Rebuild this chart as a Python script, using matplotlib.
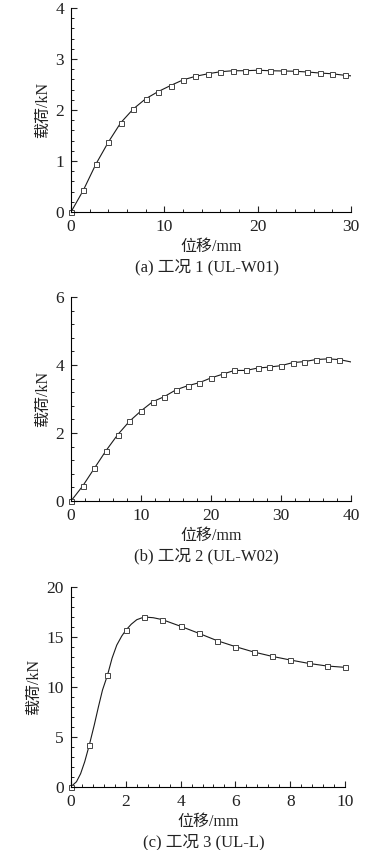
import matplotlib
matplotlib.use("Agg")
import matplotlib.pyplot as plt
import numpy as np

plt.rcParams.update(
    {
        "font.family": ["Liberation Serif", "Noto Sans CJK SC"],
        "font.size": 11,
        "axes.linewidth": 0.8,
        "xtick.direction": "in",
        "ytick.direction": "in",
        "xtick.major.size": 4,
        "ytick.major.size": 4,
        "xtick.minor.size": 2.2,
        "ytick.minor.size": 2.2,
        "xtick.major.width": 0.8,
        "ytick.major.width": 0.8,
        "xtick.minor.width": 0.7,
        "ytick.minor.width": 0.7,
    }
)

# (a) 工况 1 (UL-W01)
x_a = [0, 1.33, 2.67, 4.0, 5.33, 6.67, 8.0, 9.33, 10.67, 12.0, 13.33, 14.67,
       16.0, 17.33, 18.67, 20.0, 21.33, 22.67, 24.0, 25.33, 26.67, 28.0, 29.33]
y_a = [0, 0.43, 0.94, 1.37, 1.75, 2.02, 2.22, 2.36, 2.48, 2.59, 2.66, 2.71,
       2.75, 2.77, 2.77, 2.78, 2.77, 2.765, 2.76, 2.745, 2.725, 2.71, 2.68]
line_x_a = x_a + [30.0]
line_y_a = y_a + [2.67]

# (b) 工况 2 (UL-W02)
x_b = [0, 1.67, 3.33, 5.0, 6.67, 8.33, 10.0, 11.67, 13.33, 15.0, 16.67, 18.33,
       20.0, 21.67, 23.33, 25.0, 26.67, 28.33, 30.0, 31.67, 33.33, 35.0, 36.67, 38.33]
y_b = [0, 0.44, 0.96, 1.48, 1.95, 2.34, 2.65, 2.92, 3.07, 3.27, 3.39, 3.48,
       3.62, 3.73, 3.84, 3.84, 3.91, 3.94, 3.98, 4.07, 4.10, 4.16, 4.18, 4.16]
line_x_b = x_b + [40.0]
line_y_b = y_b + [4.09]

# (c) 工况 3 (UL-L)
x_c = [0, 0.67, 1.33, 2.0, 2.67, 3.33, 4.0, 4.67, 5.33, 6.0, 6.67, 7.33,
       8.0, 8.67, 9.33, 10.0]
y_c = [0, 4.2, 11.17, 15.69, 17.02, 16.76, 16.09, 15.38, 14.65, 14.05, 13.51,
       13.08, 12.71, 12.37, 12.11, 11.97]
# extra points (no markers)
line_x_c = [0, 0.2, 0.35, 0.5, 0.67, 0.85, 1.0, 1.15, 1.33, 1.5, 1.67, 1.85,
            2.0, 2.2, 2.4, 2.67, 3.0, 3.33, 4.0, 4.67, 5.33, 6.0, 6.67, 7.33,
            8.0, 8.67, 9.33, 10.0]
line_y_c = [0, 0.5, 1.3, 2.5, 4.2, 6.2, 8.0, 9.7, 11.17, 12.9, 14.2, 15.1,
            15.69, 16.3, 16.75, 17.02, 16.95, 16.76, 16.09, 15.38, 14.65,
            14.05, 13.51, 13.08, 12.71, 12.37, 12.11, 11.97]

PANELS = [
    {
        "rect": [71 / 386, 1 - 212 / 850, 280 / 386, 204 / 850],
        "x": x_a, "y": y_a, "lx": line_x_a, "ly": line_y_a,
        "xlim": (0, 30), "ylim": (0, 4), "xmaj": 10, "xmin": 2, "ymaj": 1, "ymin": 0.2,
        "caption": "(a) 工况 1 (UL-W01)",
    },
    {
        "rect": [71 / 386, 1 - 501 / 850, 280 / 386, 204 / 850],
        "x": x_b, "y": y_b, "lx": line_x_b, "ly": line_y_b,
        "xlim": (0, 40), "ylim": (0, 6), "xmaj": 10, "xmin": 2, "ymaj": 2, "ymin": 0.4,
        "caption": "(b) 工况 2 (UL-W02)",
    },
    {
        "rect": [71 / 386, 1 - 786.7 / 850, 274 / 386, 199.4 / 850],
        "x": x_c, "y": y_c, "lx": line_x_c, "ly": line_y_c,
        "xlim": (0, 10), "ylim": (0, 20), "xmaj": 2, "xmin": 0.4, "ymaj": 5, "ymin": 1,
        "caption": "(c) 工况 3 (UL-L)",
    },
]

fig = plt.figure(figsize=(3.86, 8.5), dpi=100)

for p in PANELS:
    ax = fig.add_axes(p["rect"])
    ax.plot(p["lx"], p["ly"], color="#1a1a1a", linewidth=0.8)
    ax.plot(p["x"], p["y"], linestyle="none", marker="s", markersize=3.6,
            markerfacecolor="white", markeredgecolor="#444444", markeredgewidth=0.7,
            clip_on=False)

    ax.set_xlim(*p["xlim"])
    ax.set_ylim(*p["ylim"])
    ax.xaxis.set_major_locator(matplotlib.ticker.MultipleLocator(p["xmaj"]))
    ax.xaxis.set_minor_locator(matplotlib.ticker.MultipleLocator(p["xmin"]))
    ax.yaxis.set_major_locator(matplotlib.ticker.MultipleLocator(p["ymaj"]))
    ax.yaxis.set_minor_locator(matplotlib.ticker.MultipleLocator(p["ymin"]))
    ax.spines["top"].set_visible(False)
    ax.spines["right"].set_visible(False)
    ax.tick_params(which="both", labelsize=12.5, pad=5, colors="#222222")

    ax.set_xlabel("位移/mm", fontsize=11.5, labelpad=3, color="#222222")
    ax.set_ylabel("载荷/kN", fontsize=11.5, labelpad=3, color="#222222")
    ax.annotate(p["caption"], xy=(0.5, 0), xycoords="axes fraction",
                xytext=(-3, -40), textcoords="offset points",
                ha="center", va="center", fontsize=12, color="#222222")

fig.savefig("out.png", dpi=100)
